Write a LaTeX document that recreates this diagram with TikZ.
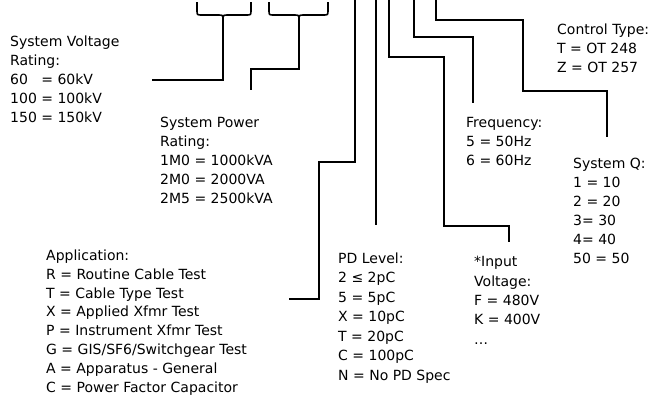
\documentclass[tikz,border=0pt]{standalone}
\usepackage{fontspec}
\setmainfont{DejaVu Sans}
\begin{document}
\begin{tikzpicture}[x=1pt,y=-1pt,
  conn/.style={draw=black,line width=1.6pt,line join=miter},
  legend/.style={anchor=base west,inner sep=0pt,align=left,font=\fontsize{14}{19}\selectfont}]
\useasboundingbox (0,0) rectangle (654,400);
% text blocks (anchor = baseline of last line)
\node[legend,font=\fontsize{14}{18.8}\selectfont] (volt) at (10,122) {System Voltage\\Rating:\\60\hphantom{0} = 60kV\\100 = 100kV\\150 = 150kV};
\node[legend,font=\fontsize{14}{18.8}\selectfont] (power) at (160,203) {System Power\\Rating:\\1M0 = 1000kVA\\2M0 = 2000VA\\2M5 = 2500kVA};
\node[legend,font=\fontsize{14}{18.9}\selectfont] (app) at (46,392.5) {Application:\\R = Routine Cable Test\\T = Cable Type Test\\X = Applied Xfmr Test\\P = Instrument Xfmr Test\\G = GIS/SF6/Switchgear Test\\A = Apparatus - General\\C = Power Factor Capacitor};
\node[legend,font=\fontsize{14}{19.5}\selectfont] (pd) at (338,380) {PD Level:\\2 ≤ 2pC\\5 = 5pC\\X = 10pC\\T = 20pC\\C = 100pC\\N = No PD Spec};
\node[legend,font=\fontsize{14}{19.3}\selectfont] (inv) at (474,344) {*Input\\Voltage:\\F = 480V\\K = 400V\\…};
\node[legend,font=\fontsize{14}{18.8}\selectfont] (freq) at (466,165.5) {Frequency:\\5 = 50Hz\\6 = 60Hz};
\node[legend] (sysq) at (573,263) {System Q:\\1 = 10\\2 = 20\\3= 30\\4= 40\\50 = 50};
\node[legend] (ctrl) at (557,72) {Control Type:\\T = OT 248\\Z = OT 257};
% coordinates
\coordinate (b1) at (223,20);
\coordinate (b2) at (299,20);
\coordinate (e1) at (152,80);
\coordinate (e2) at (251,90);
\coordinate (s3) at (355,0);
\coordinate (e3) at (289,299);
\coordinate (s4) at (376,0);
\coordinate (e4) at (376,225);
\coordinate (s5) at (389,0);
\coordinate (e5) at (509,242);
\coordinate (s6) at (414,0);
\coordinate (e6) at (473,103);
\coordinate (s7) at (436,0);
\coordinate (e7) at (607,137);
% braces
\draw[conn] (197,2) -- (197,10) .. controls (197,15) .. (202,15) -- (218,15) .. controls (223,15) .. (b1);
\draw[conn] (251,2) -- (251,10) .. controls (251,15) .. (246,15) -- (228,15) .. controls (223,15) .. (b1);
\draw[conn] (269,2) -- (269,10) .. controls (269,15) .. (274,15) -- (294,15) .. controls (299,15) .. (b2);
\draw[conn] (328,2) -- (328,10) .. controls (328,15) .. (323,15) -- (304,15) .. controls (299,15) .. (b2);
% connectors
\draw[conn] (b1) |- (e1);
\draw[conn] (b2) -- (299,69) -| (e2);
\draw[conn] (s3) |- (319,162) |- (e3);
\draw[conn] (s4) -- (e4);
\draw[conn] (s5) |- (444,57) |- (509,226) -- (e5);
\draw[conn] (s6) |- (473,37) -- (e6);
\draw[conn] (s7) |- (523,20) |- (607,91) -- (e7);
\end{tikzpicture}
\end{document}
